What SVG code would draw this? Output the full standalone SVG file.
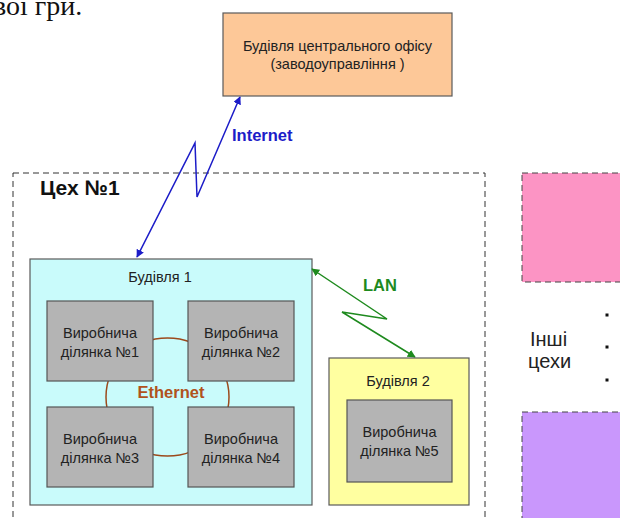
<svg xmlns="http://www.w3.org/2000/svg" width="620" height="518" viewBox="0 0 620 518">
  <style>
    .lbl { font-family: "Liberation Sans", Arial, sans-serif; font-size: 14.5px; fill: #222; text-anchor: middle; }
    .box { stroke: #5a5a5a; stroke-width: 1.2; }
    .site { fill: #b4b4b4; stroke: #555; stroke-width: 1.2; }
    .dash { fill: none; stroke: #333; stroke-width: 1; stroke-dasharray: 6 4; }
    .net { font-family: "Liberation Sans", Arial, sans-serif; font-weight: bold; font-size: 16.5px; }
  </style>
  <defs>
    <marker id="arrBlue" viewBox="0 0 10 10" refX="9" refY="5" markerWidth="8" markerHeight="8" markerUnits="userSpaceOnUse" orient="auto-start-reverse">
      <path d="M0,0 L10,5 L0,10 z" fill="#1c1cc8"/>
    </marker>
    <marker id="arrGreen" viewBox="0 0 10 10" refX="9" refY="5" markerWidth="8" markerHeight="8" markerUnits="userSpaceOnUse" orient="auto-start-reverse">
      <path d="M0,0 L10,5 L0,10 z" fill="#1e8a1e"/>
    </marker>
  </defs>

  <rect width="620" height="518" fill="#ffffff"/>

  <!-- tail of the preceding page text -->
  <text x="-7" y="15" font-family="Liberation Serif, 'Times New Roman', serif" font-size="28" fill="#111">вої гри.</text>

  <!-- workshop No.1 boundary -->
  <g id="workshop1">
    <rect class="dash" x="13" y="173" width="472" height="360"/>
    <text x="40" y="195" font-family="Liberation Sans, Arial, sans-serif" font-weight="bold" font-size="21" fill="#111">Цех №1</text>
  </g>

  <!-- head office -->
  <g id="office">
    <rect class="box" x="223" y="13" width="229" height="83" fill="#fdc898" stroke="#5a4a3a"/>
    <text class="lbl" x="337.5" y="51">Будівля центрального офісу</text>
    <text class="lbl" x="337.5" y="69">(заводоуправління )</text>
  </g>

  <!-- building 1 -->
  <g id="building1">
    <rect class="box" x="30" y="259" width="282" height="246" fill="#c9fbfb"/>
    <text class="lbl" x="160" y="282">Будівля 1</text>
  </g>

  <!-- ethernet ring behind the sites, WAN and LAN links -->
  <g id="connectors">
    <ellipse cx="167.5" cy="397" rx="61.5" ry="59" fill="none" stroke="#9c4a1c" stroke-width="1.5"/>
    <path d="M137,257 L195,143 L197,197 L240,97" fill="none" stroke="#1c1cc8" stroke-width="1.5" marker-start="url(#arrBlue)" marker-end="url(#arrBlue)"/>
    <path d="M312,269 L387,319 L342,312 L415,357" fill="none" stroke="#1e8a1e" stroke-width="1.5" marker-start="url(#arrGreen)" marker-end="url(#arrGreen)"/>
    <text class="net" x="232" y="141" fill="#1c1cc8">Internet</text>
    <text class="net" x="363" y="291" fill="#1e8a1e">LAN</text>
  </g>

  <g id="site1">
    <rect class="site" x="47" y="301" width="106" height="80"/>
    <text class="lbl" x="100" y="338">Виробнича</text>
    <text class="lbl" x="100" y="357">ділянка №1</text>
  </g>
  <g id="site2">
    <rect class="site" x="188" y="301" width="106" height="80"/>
    <text class="lbl" x="241" y="338">Виробнича</text>
    <text class="lbl" x="241" y="357">ділянка №2</text>
  </g>
  <g id="site3">
    <rect class="site" x="47" y="407" width="106" height="80"/>
    <text class="lbl" x="100" y="444">Виробнича</text>
    <text class="lbl" x="100" y="463">ділянка №3</text>
  </g>
  <g id="site4">
    <rect class="site" x="188" y="407" width="106" height="80"/>
    <text class="lbl" x="241" y="444">Виробнича</text>
    <text class="lbl" x="241" y="463">ділянка №4</text>
  </g>

  <text id="ethernet" class="net" x="171" y="398" fill="#b0521c" text-anchor="middle">Ethernet</text>

  <!-- building 2 -->
  <g id="building2">
    <rect class="box" x="329" y="358" width="140" height="147" fill="#ffffa0"/>
    <text class="lbl" x="398" y="386">Будівля 2</text>
  </g>
  <g id="site5">
    <rect class="site" x="347" y="400" width="105" height="82"/>
    <text class="lbl" x="399.5" y="437">Виробнича</text>
    <text class="lbl" x="399.5" y="456">ділянка №5</text>
  </g>

  <!-- other workshops -->
  <g id="workshop-a">
    <rect x="522" y="173" width="120" height="109" fill="#fc94c4" stroke="#444" stroke-width="1" stroke-dasharray="6 4"/>
  </g>
  <g id="workshop-b">
    <rect x="522" y="412" width="120" height="130" fill="#c997fc" stroke="#444" stroke-width="1" stroke-dasharray="6 4"/>
  </g>
  <g id="others">
    <text x="530" y="346" font-family="Liberation Sans, Arial, sans-serif" font-size="20" fill="#222">Інші</text>
    <text x="528" y="368" font-family="Liberation Sans, Arial, sans-serif" font-size="20" fill="#222">цехи</text>
    <rect x="605.5" y="313.5" width="3" height="3" fill="#111"/>
    <rect x="605.5" y="345.5" width="3" height="3" fill="#111"/>
    <rect x="605.5" y="378.5" width="3" height="3" fill="#111"/>
  </g>
</svg>
